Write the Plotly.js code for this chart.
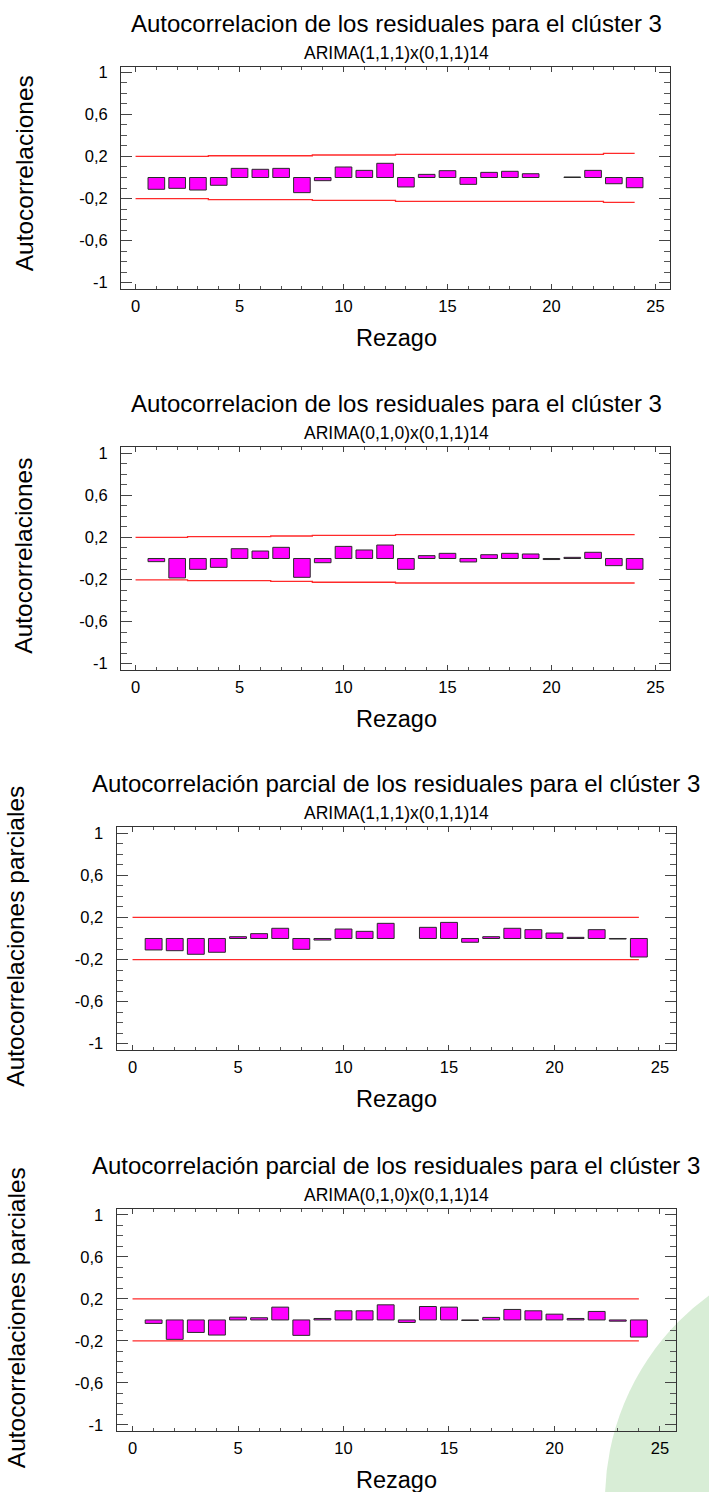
<!DOCTYPE html>
<html><head><meta charset="utf-8">
<script src="https://cdn.plot.ly/plotly-3.0.1.min.js"></script>
<style>html,body{margin:0;padding:0;background:#fff;} #chart{width:709px;height:1492px;}</style>
</head><body><div id="chart"></div>
<script>
// ---- data ----
const lags = [1,2,3,4,5,6,7,8,9,10,11,12,13,14,15,16,17,18,19,20,21,22,23,24];
const acfModelA  = [-0.112,-0.103,-0.119,-0.074,0.087,0.078,0.087,-0.144,-0.030,0.100,0.068,0.135,-0.090,0.030,0.065,-0.065,0.049,0.059,0.036,null,0.005,0.068,-0.059,-0.097];
const acfModelB  = [-0.030,-0.185,-0.103,-0.084,0.093,0.071,0.106,-0.179,-0.040,0.115,0.081,0.128,-0.103,0.027,0.049,-0.033,0.036,0.049,0.043,-0.010,0.011,0.059,-0.068,-0.103];
const pacfModelA = [-0.109,-0.116,-0.150,-0.131,0.017,0.046,0.097,-0.103,-0.015,0.090,0.068,0.144,null,0.106,0.153,-0.036,0.017,0.097,0.084,0.052,0.011,0.084,-0.005,-0.176];
const pacfModelB = [-0.033,-0.185,-0.119,-0.144,0.027,0.021,0.122,-0.147,0.014,0.087,0.087,0.144,-0.024,0.128,0.122,-0.005,0.024,0.100,0.087,0.055,0.014,0.081,-0.012,-0.163];

const limitLags = [0,1,2,3,4,5,6,7,8,9,10,11,12,13,14,15,16,17,18,19,20,21,22,23,24];
const acfUpperA = [0.201,0.201,0.201,0.201,0.207,0.207,0.207,0.207,0.207,0.214,0.214,0.214,0.214,0.220,0.220,0.220,0.220,0.220,0.220,0.220,0.220,0.220,0.220,0.230,0.230];
const acfLowerA = [-0.201,-0.201,-0.201,-0.201,-0.211,-0.211,-0.211,-0.211,-0.211,-0.217,-0.217,-0.217,-0.217,-0.226,-0.226,-0.226,-0.226,-0.226,-0.226,-0.226,-0.226,-0.226,-0.226,-0.236,-0.236];
const acfUpperB = [0.201,0.201,0.201,0.207,0.207,0.207,0.207,0.214,0.214,0.220,0.220,0.220,0.220,0.226,0.226,0.226,0.226,0.226,0.226,0.226,0.226,0.226,0.226,0.226,0.226];
const acfLowerB = [-0.204,-0.204,-0.204,-0.210,-0.210,-0.210,-0.210,-0.217,-0.217,-0.226,-0.226,-0.226,-0.226,-0.233,-0.233,-0.233,-0.233,-0.233,-0.233,-0.233,-0.233,-0.233,-0.233,-0.233,-0.233];
const pacfLimitLags = [0,24];
const pacfUpper = [0.2,0.2];
const pacfLower = [-0.2,-0.2];

const panelTitles = [
  "Autocorrelacion de los residuales para el clúster 3",
  "Autocorrelacion de los residuales para el clúster 3",
  "Autocorrelación parcial de los residuales para el clúster 3",
  "Autocorrelación parcial de los residuales para el clúster 3"
];
const panelSubtitles = ["ARIMA(1,1,1)x(0,1,1)14","ARIMA(0,1,0)x(0,1,1)14","ARIMA(1,1,1)x(0,1,1)14","ARIMA(0,1,0)x(0,1,1)14"];
const yTitles = ["Autocorrelaciones","Autocorrelaciones","Autocorrelaciones parciales","Autocorrelaciones parciales"];
const xTitle = "Rezago";
const yTickVals = [-1,-0.6,-0.2,0.2,0.6,1];
const yTickText = ["-1","-0,6","-0,2","0,2","0,6","1"];
const xTickVals = [0,5,10,15,20,25];
const xTickText = ["0","5","10","15","20","25"];

// ---- layout geometry (pixels) ----
const W = 709, H = 1492;
const panels = [
  {l:121, r:670, t:67.3, b:289.3, xr:[-0.7,25.7], yr:[-1.063,1.048], ytx:24, yoff:-5},
  {l:121, r:670, t:447.3, b:670, xr:[-0.7,25.7], yr:[-1.06,1.057], ytx:24, yoff:-3},
  {l:116.5, r:676, t:827.3, b:1050, xr:[-0.76,25.76], yr:[-1.06,1.057], ytx:16, yoff:-2},
  {l:116.5, r:676, t:1209.3, b:1431, xr:[-0.76,25.76], yr:[-1.058,1.054], ytx:16, yoff:-2}
];
const series = [
  {bars:acfModelA, lx:limitLags, up:acfUpperA, lo:acfLowerA},
  {bars:acfModelB, lx:limitLags, up:acfUpperB, lo:acfLowerB},
  {bars:pacfModelA, lx:pacfLimitLags, up:pacfUpper, lo:pacfLower},
  {bars:pacfModelB, lx:pacfLimitLags, up:pacfUpper, lo:pacfLower}
];

const FONT = "Liberation Sans, Arial, sans-serif";
const px = x => x / W;
const py = y => 1 - y / H;

const data = [];
const layout = {
  width: W, height: H,
  margin: {l:0, r:0, t:0, b:0},
  paper_bgcolor: "#ffffff",
  plot_bgcolor: "rgba(0,0,0,0)",
  showlegend: false,
  font: {family: FONT, color: "#000"},
  annotations: [],
  shapes: [{
    type: "circle", xref: "paper", yref: "paper", layer: "below",
    x0: px(605), x1: px(1111), y0: py(1753), y1: py(1247),
    fillcolor: "rgb(216,237,214)", line: {width: 0}
  }]
};

panels.forEach((p, i) => {
  const n = i === 0 ? "" : String(i + 1);
  const xa = "x" + n, ya = "y" + n;
  const s = series[i];
  data.push({
    type: "bar", x: lags, y: s.bars, width: 0.8, xaxis: xa, yaxis: ya,
    marker: {color: "#ff00ff", line: {color: "#2a2a2a", width: 1}},
    hoverinfo: "x+y"
  });
  const lineShape = s.lx.length > 2 ? "hvh" : "linear";
  data.push({type:"scatter", mode:"lines", x:s.lx, y:s.up, xaxis:xa, yaxis:ya,
    line:{color:"#ff2a2a", width:1.3, shape:lineShape}, hoverinfo:"skip"});
  data.push({type:"scatter", mode:"lines", x:s.lx, y:s.lo, xaxis:xa, yaxis:ya,
    line:{color:"#ff2a2a", width:1.3, shape:lineShape}, hoverinfo:"skip"});

  layout["xaxis" + n] = {
    domain: [px(p.l), px(p.r)], range: p.xr, anchor: ya,
    tickmode: "array", tickvals: xTickVals, ticktext: xTickText,
    ticks: "inside", ticklen: 5, tickcolor: "#444", tickwidth: 1,
    minor: {tickmode: "linear", tick0: 0, dtick: 1, ticks: "inside", ticklen: 3, tickcolor: "#555"},
    showline: true, linecolor: "#333", linewidth: 1, mirror: "allticks",
    showgrid: false, zeroline: false,
    tickfont: {size: 16.5, family: FONT, color: "#000"}, ticklabelstandoff: 2
  };
  layout["yaxis" + n] = {
    domain: [py(p.b), py(p.t)], range: p.yr, anchor: xa,
    tickmode: "array", tickvals: yTickVals, ticktext: yTickText,
    ticks: "inside", ticklen: 11, tickcolor: "#444", tickwidth: 1,
    minor: {tickmode: "linear", tick0: 0, dtick: 0.1, ticks: "inside", ticklen: 6, tickcolor: "#555"},
    showline: true, linecolor: "#333", linewidth: 1, mirror: "allticks",
    showgrid: false, zeroline: false,
    tickfont: {size: 16.5, family: FONT, color: "#000"}, ticklabelstandoff: 9
  };

  layout.annotations.push(
    {text: panelTitles[i], xref:"paper", yref:"paper", x: px(396), y: py(p.t - 44),
     xanchor:"center", yanchor:"middle", showarrow:false, font:{size:24, family:FONT, color:"#000"}},
    {text: panelSubtitles[i], xref:"paper", yref:"paper", x: px(396), y: py(p.t - 14),
     xanchor:"center", yanchor:"middle", showarrow:false, font:{size:17.5, family:FONT, color:"#000"}},
    {text: xTitle, xref:"paper", yref:"paper", x: px(396), y: py(p.b + 49),
     xanchor:"center", yanchor:"middle", showarrow:false, font:{size:23.5, family:FONT, color:"#000"}},
    {text: yTitles[i], xref:"paper", yref:"paper", x: px(p.ytx), y: py((p.t + p.b) / 2 + p.yoff),
     xanchor:"center", yanchor:"middle", textangle:-90, showarrow:false, font:{size:24.5, family:FONT, color:"#000"}}
  );
});

Plotly.newPlot("chart", data, layout, {displayModeBar:false, staticPlot:true});
</script>
</body></html>
